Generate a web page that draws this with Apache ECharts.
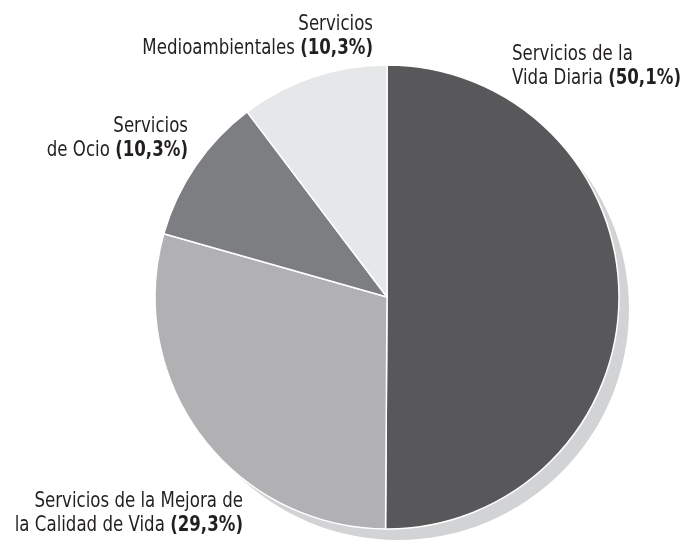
<!DOCTYPE html>
<html>
<head>
<meta charset="utf-8">
<script src="https://cdn.jsdelivr.net/npm/echarts@6/dist/echarts.min.js"></script>
<style>
  html, body { margin: 0; padding: 0; background: #fff; }
  #chart { width: 682px; height: 543px; }
</style>
</head>
<body>
<div id="chart"></div>
<script>
const names = [
  "Servicios de la\nVida Diaria",
  "Servicios de la Mejora de\nla Calidad de Vida",
  "Servicios\nde Ocio",
  "Servicios\nMedioambientales"
];
const values = [50.1, 29.3, 10.3, 10.3];
const colors = ["#58585a", "#b1b1b3", "#7d7e81", "#e6e7e8"];

// label anchor per slice: [x, y (block middle), align]
const labelPos = [
  [512, 66, "left"],
  [243, 513, "right"],
  [188, 138, "right"],
  [373, 36, "right"]
];

const chart = echarts.init(document.getElementById("chart"));
const font = '"DejaVu Sans Condensed", "Liberation Sans Narrow", sans-serif';
const total = values.reduce((a, b) => a + b, 0);

// condensed look: wide-ish font squeezed horizontally
const labelText = (i) => {
  const lines = names[i].split("\n");
  const pct = values[i].toFixed(1).replace(".", ",");
  return lines.map((l, k) => k === lines.length - 1
    ? "{n|" + l + " }{b|(" + pct + "%)}"
    : "{n|" + l + "}").join("\n");
};

const labels = names.map((n, i) => ({
  type: "text",
  x: labelPos[i][0],
  y: labelPos[i][1],
  scaleX: 0.84,
  silent: true,
  style: {
    text: labelText(i),
    align: labelPos[i][2],
    textAlign: labelPos[i][2],
    verticalAlign: "middle",
    textVerticalAlign: "middle",
    fill: "#231f20",
    fontFamily: font,
    fontSize: 22,
    lineHeight: 24,
    rich: {
      n: { fontFamily: font, fontSize: 22, lineHeight: 24, fill: "#231f20", color: "#231f20" },
      b: { fontFamily: font, fontSize: 22, lineHeight: 24, fontWeight: "bold", fill: "#231f20", color: "#231f20" }
    }
  }
}));

chart.setOption({
  animation: false,
  graphic: labels,
  series: [
    {
      // drop shadow behind the pie
      type: "pie",
      silent: true,
      center: [398, 309],
      radius: 231,
      label: { show: false },
      labelLine: { show: false },
      itemStyle: { color: "#d2d3d4" },
      data: [{ value: total, name: "shadow" }]
    },
    {
      type: "pie",
      center: [387, 297],
      radius: 232,
      startAngle: 90,
      clockwise: true,
      itemStyle: { borderColor: "#fff", borderWidth: 1.5 },
      label: { show: false },
      labelLine: { show: false },
      data: names.map((n, i) => ({ name: n, value: values[i], itemStyle: { color: colors[i] } }))
    }
  ]
});
</script>
</body>
</html>
